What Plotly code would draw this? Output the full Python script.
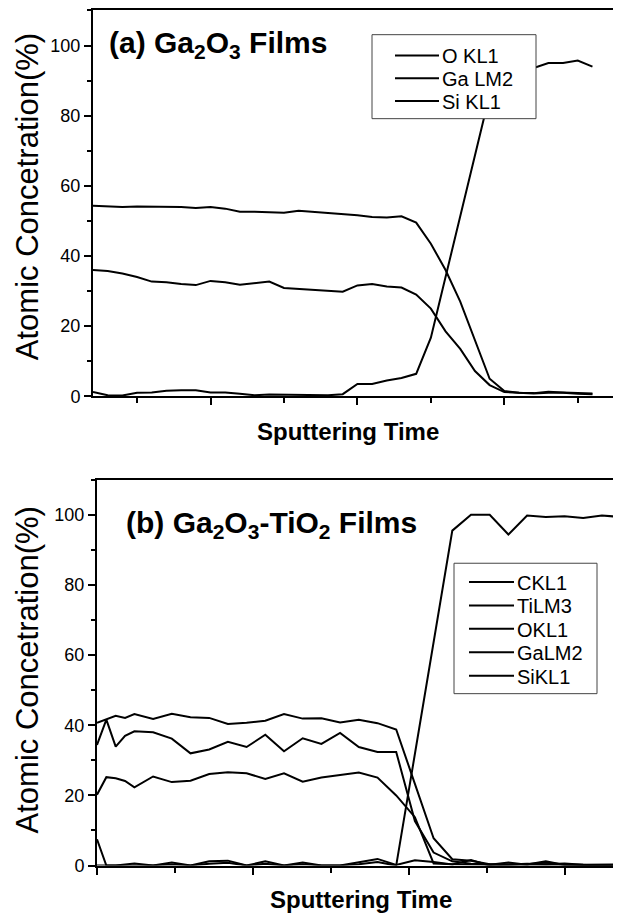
import plotly.graph_objects as go

# The page body keeps the browser's default 8 px margin, so the figure is
# offset by 8 px; it is sized to reach the right/bottom edges of the
# 621x922 window. All positions below are given in window pixels.
OFF = 8
W, H = 621 - OFF, 922 - OFF
FONT = "Liberation Sans, Arial, sans-serif"

# ---------------- Panel (a): Ga2O3 films ----------------
time_a = [0, 1, 2, 3, 4, 5, 6, 7, 8, 9, 10, 11, 12, 13, 14, 15, 16, 17, 18, 19,
          20, 21, 22, 23, 24, 25, 26, 27, 28, 29, 30, 31, 32, 33, 34]
o_kl1_a = [54.3, 54.1, 54.0, 54.1, 54.1, 54.1, 54.0, 53.7, 54.0, 53.5,
           52.6, 52.6, 52.5, 52.3, 52.9, 52.6, 52.2, 51.8, 51.6, 51.1,
           51.0, 51.3, 49.5, 43.5, 36.0, 27.0, 16.0, 5.0, 1.5, 1.0,
           0.9, 1.3, 1.1, 0.9, 0.8]
ga_lm2_a = [36.0, 35.7, 35.0, 34.0, 32.7, 32.5, 32.0, 31.7, 32.9, 32.5,
            31.8, 32.2, 32.7, 30.9, 30.6, 30.4, 30.2, 29.8, 31.6, 32.0,
            31.3, 31.0, 29.0, 25.0, 18.5, 13.5, 7.2, 3.2, 1.2, 1.0,
            0.8, 1.0, 1.0, 0.7, 0.6]
si_kl1_a = [1.2, 0.3, 0.2, 1.0, 1.1, 1.6, 1.7, 1.7, 1.1, 1.1,
            0.7, 0.3, 0.5, 0.5, 0.4, 0.4, 0.3, 0.6, 3.5, 3.5,
            4.5, 5.2, 6.4, 16.7, 34.0, 51.0, 68.0, 86.0, 92.0, 93.0,
            93.6, 95.0, 95.0, 95.7, 94.0]
names_a = ["O KL1", "Ga LM2", "Si KL1"]

# ---------------- Panel (b): Ga2O3-TiO2 films ----------------
time_b = [0, 0.5, 1, 1.5, 2, 3, 4, 5, 6, 7, 8, 9, 10, 11, 12, 13, 14, 15, 16,
          17, 18, 19, 20, 21, 22, 23, 24, 25, 26, 27, 28]
c_kl1_b = [7.5, 0.0, 0.0, 0.3, 0.6, 0.0, 0.9, 0.0, 1.2, 1.4, 0.0, 1.2, 0.0, 0.9,
           0.0, 0.0, 0.9, 1.9, 0.2, 1.5, 1.0, 0.3, 1.6, 0.0, 0.3, 0.4, 0.9, 0.2,
           0.2, 0.3, 0.3]
ti_lm3_b = [20.2, 25.2, 24.9, 24.1, 22.3, 25.4, 23.8, 24.2, 26.1, 26.6, 26.3,
            24.7, 26.3, 23.9, 25.1, 25.8, 26.5, 25.1, 20.0, 13.8, 0.6, 0.4,
            0.3, 0.2, 0.9, 0.2, 0.3, 0.2, 0.2, 0.1, 0.2]
o_kl1_b = [40.7, 41.6, 42.7, 42.1, 43.2, 41.8, 43.3, 42.3, 42.1, 40.4, 40.7,
           41.3, 43.2, 41.9, 42.0, 40.8, 41.6, 40.6, 38.8, 23.3, 7.8, 1.8,
           1.4, 0.4, 0.3, 0.5, 0.4, 0.6, 0.2, 0.1, 0.2]
ga_lm2_b = [34.4, 41.6, 33.9, 37.0, 38.3, 38.0, 36.2, 32.0, 33.1, 35.3, 33.8,
            37.3, 32.6, 36.3, 34.7, 37.8, 33.8, 32.4, 32.4, 12.7, 3.7, 1.2,
            0.5, 0.3, 0.2, 0.3, 1.2, 0.2, 0.1, 0.2, 0.1]
si_kl1_b = [0.0, 0.0, 0.0, 0.0, 0.0, 0.0, 0.3, 0.0, 0.5, 0.8, 0.0, 0.5, 0.0,
            0.4, 0.0, 0.0, 0.4, 1.0, 0.0, 31.8, 63.7, 95.5, 100.0, 100.0, 94.4,
            99.8, 99.4, 99.6, 99.1, 99.8, 99.4]
names_b = ["CKL1", "TiLM3", "OKL1", "GaLM2", "SiKL1"]

fig = go.Figure()
line = dict(color="black", width=2)
for nm, ys in zip(names_a, [o_kl1_a, ga_lm2_a, si_kl1_a]):
    fig.add_trace(go.Scatter(x=time_a, y=ys, mode="lines", name=nm, line=line,
                             xaxis="x", yaxis="y", showlegend=False))
for nm, ys in zip(names_b, [c_kl1_b, ti_lm3_b, o_kl1_b, ga_lm2_b, si_kl1_b]):
    fig.add_trace(go.Scatter(x=time_b, y=ys, mode="lines", name=nm, line=line,
                             xaxis="x2", yaxis="y2", showlegend=False))


def px(x):
    return (x - OFF) / W


def py(y):
    return 1 - (y - OFF) / H


RIGHT = OFF + W  # right edge of the plotting areas in window pixels

common_x = dict(showline=True, linewidth=2, linecolor="black", mirror=True,
                ticks="outside", ticklen=7, tickwidth=2, tickcolor="black",
                showticklabels=False, showgrid=False, zeroline=False)
common_y = dict(showline=True, linewidth=2, linecolor="black", mirror=False,
                ticks="outside", ticklen=7, tickwidth=2, tickcolor="black",
                range=[0, 110], tick0=0, dtick=20, showgrid=False, zeroline=False,
                tickfont=dict(family=FONT, size=18, color="black"),
                minor=dict(ticks="outside", ticklen=4, tickwidth=2, tickcolor="black",
                           tick0=0, dtick=10, showgrid=False))

# legend boxes (drawn as shapes, items as lines + text)
shapes = [
    dict(type="rect", xref="paper", yref="paper", x0=px(372), x1=px(536),
         y0=py(119), y1=py(34), line=dict(color="#444", width=1),
         fillcolor="white", layer="above"),
    dict(type="rect", xref="paper", yref="paper", x0=px(454), x1=px(597),
         y0=py(701), y1=py(569), line=dict(color="#444", width=1),
         fillcolor="white", layer="above"),
]
annotations = []


def legend_items(names, x_line0, x_line1, y0, dy, size):
    for i, nm in enumerate(names):
        yy = y0 + dy * i
        shapes.append(dict(type="line", xref="paper", yref="paper",
                           x0=px(x_line0), x1=px(x_line1), y0=py(yy), y1=py(yy),
                           line=dict(color="black", width=2), layer="above"))
        annotations.append(dict(text=nm, xref="paper", yref="paper", x=px(x_line1 + 1),
                                y=py(yy + 1), xanchor="left", yanchor="middle",
                                showarrow=False,
                                font=dict(family=FONT, size=size, color="black")))


legend_items(names_a, 395, 439, 55, 23, 20)
legend_items(names_b, 469, 514, 588, 23.7, 20)

annotations += [
    dict(text="<b>(a) Ga<sub>2</sub>O<sub>3</sub> Films</b>", xref="paper", yref="paper",
         x=px(107), y=py(23), xanchor="left", yanchor="top", showarrow=False,
         font=dict(family=FONT, size=30, color="black")),
    dict(text="<b>(b) Ga<sub>2</sub>O<sub>3</sub>-TiO<sub>2</sub> Films</b>", xref="paper",
         yref="paper", x=px(124), y=py(509), xanchor="left", yanchor="top",
         showarrow=False, font=dict(family=FONT, size=30, color="black")),
    dict(text="<b>Sputtering Time</b>", xref="paper", yref="paper", x=px(348), y=py(436),
         xanchor="center", yanchor="middle", showarrow=False,
         font=dict(family=FONT, size=24, color="black")),
    dict(text="<b>Sputtering Time</b>", xref="paper", yref="paper", x=px(361), y=py(909),
         xanchor="center", yanchor="middle", showarrow=False,
         font=dict(family=FONT, size=24, color="black")),
    dict(text="Atomic Concetration(%)", xref="paper", yref="paper", x=px(27),
         y=py(198.5), xanchor="center", yanchor="middle", textangle=-90,
         showarrow=False, font=dict(family=FONT, size=31, color="black")),
    dict(text="Atomic Concetration(%)", xref="paper", yref="paper", x=px(27),
         y=py(677.5), xanchor="center", yanchor="middle", textangle=-90,
         showarrow=False, font=dict(family=FONT, size=31, color="black")),
]

fig.update_layout(
    width=W, height=H, margin=dict(l=0, r=0, t=0, b=0),
    paper_bgcolor="white", plot_bgcolor="white", showlegend=False,
    font=dict(family=FONT, color="black"),
    xaxis=dict(domain=[px(93), 1], anchor="y", range=[0, (RIGHT - 93) / 14.69],
               tick0=8, dtick=10,
               minor=dict(ticks="outside", ticklen=5, tickwidth=2, tickcolor="black",
                          tick0=3, dtick=5, showgrid=False), **common_x),
    yaxis=dict(domain=[py(400), py(9.5)], anchor="x", **common_y),
    xaxis2=dict(domain=[px(97), 1], anchor="y2", range=[0, (RIGHT - 97) / 18.7],
                tick0=0, dtick=8.34,
                minor=dict(ticks="outside", ticklen=5, tickwidth=2, tickcolor="black",
                           tick0=0, dtick=4.17, showgrid=False), **common_x),
    yaxis2=dict(domain=[py(875), py(484.5)], anchor="x2", **common_y),
    shapes=shapes,
    annotations=annotations,
)

fig.write_html("out.html")
